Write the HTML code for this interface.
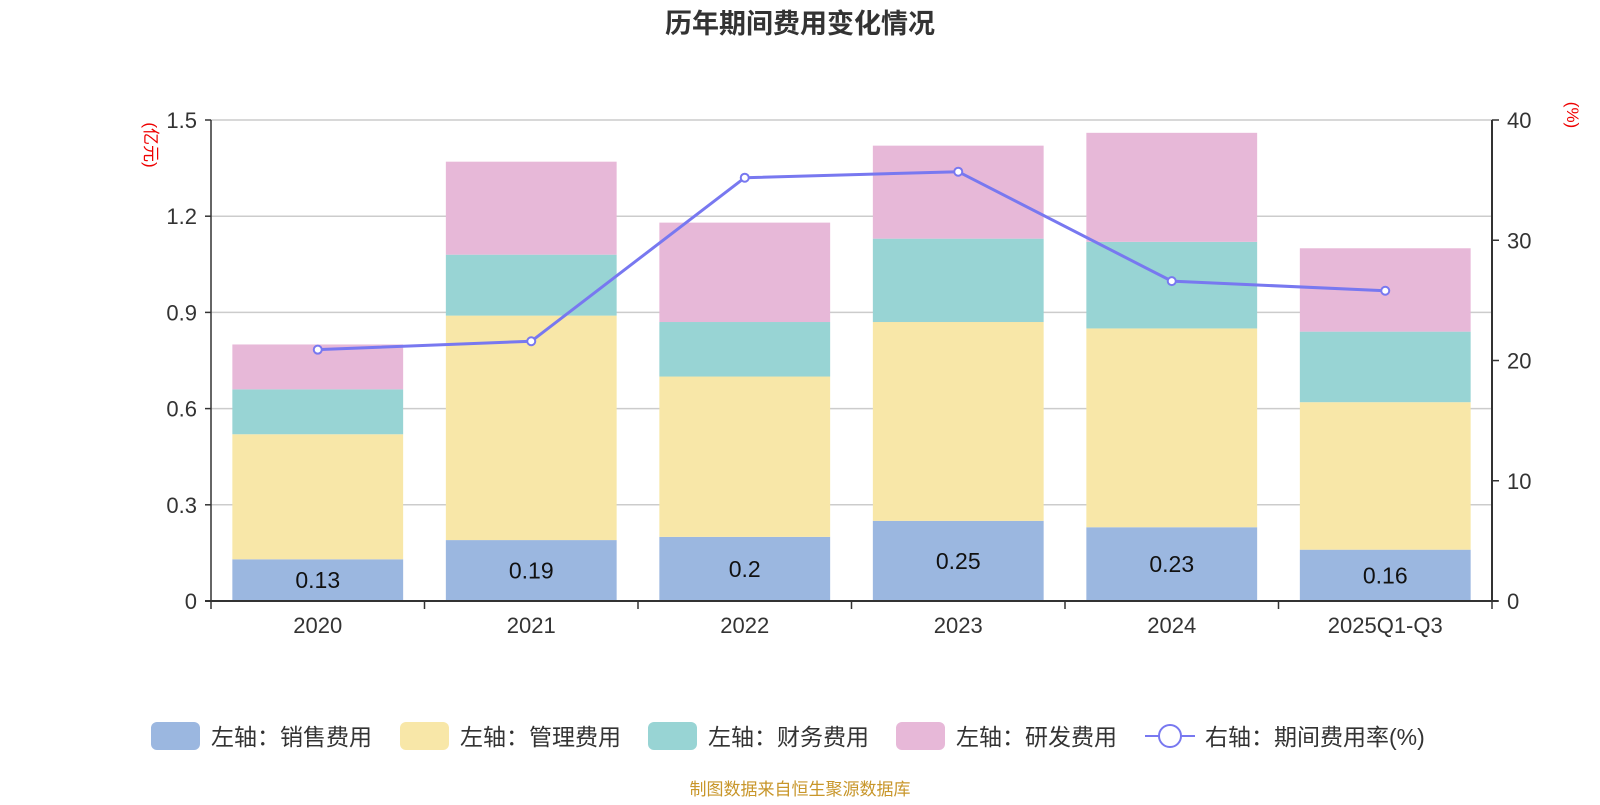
<!DOCTYPE html>
<html><head><meta charset="utf-8"><style>
body{margin:0;background:#fff;}
svg text{font-family:"Liberation Sans","Noto Sans CJK SC",sans-serif;}
</style></head><body>
<svg id="c" width="1600" height="800" viewBox="0 0 1600 800">
<text x="800" y="33" text-anchor="middle" font-size="27" font-weight="bold" fill="#333">历年期间费用变化情况</text>
<text transform="translate(145,145) rotate(90)" text-anchor="middle" font-size="17" fill="#e00">(亿元)</text>
<text transform="translate(1567,115) rotate(90)" text-anchor="middle" font-size="17" fill="#e00">(%)</text>
<g id="grid"></g><g id="bars"></g><g id="axes"></g><g id="line"></g><g id="legend"></g>
<text x="800" y="795" text-anchor="middle" font-size="17" fill="#c8962a">制图数据来自恒生聚源数据库</text>
</svg>
<script>
const categories=["2020","2021","2022","2023","2024","2025Q1-Q3"];
const sales=[0.13,0.19,0.2,0.25,0.23,0.16];
const admin=[0.39,0.70,0.50,0.62,0.62,0.46];
const finance=[0.14,0.19,0.17,0.26,0.27,0.22];
const rnd=[0.14,0.29,0.31,0.29,0.34,0.26];
const rate=[20.9,21.6,35.2,35.7,26.6,25.8];
const leftTicks=["0","0.3","0.6","0.9","1.2","1.5"];
const rightTicks=["0","10","20","30","40"];
const NS="http://www.w3.org/2000/svg";
const L=211,R=1492,T=120,B=601;
const yL=v=>B-(v/1.5)*(B-T);
const yR=v=>B-(v/40)*(B-T);
const bw=(R-L)/categories.length;
const xC=i=>L+bw*(i+0.5);
function mk(tag,attrs,parent,txt){const e=document.createElementNS(NS,tag);for(const k in attrs)e.setAttribute(k,attrs[k]);if(txt!==undefined)e.textContent=txt;document.getElementById(parent).appendChild(e);return e;}
leftTicks.forEach((t,i)=>{const y=yL(parseFloat(t));
 if(i>0){const g=mk('line',{x1:L,x2:R,y1:y,y2:y,stroke:'#ccc','stroke-width':1.5},'grid');
 
 }
 const tk=mk('text',{x:L-14,y:y+8,'text-anchor':'end','font-size':22,fill:'#333'},'axes',t);
 
 
 mk('line',{x1:L-6,x2:L,y1:y,y2:y,stroke:'#333','stroke-width':1.5},'axes');});
rightTicks.forEach(t=>{const y=yR(parseFloat(t));
 const tk=mk('text',{x:R+15,y:y+8,'font-size':22,fill:'#333'},'axes',t);
 
 
 mk('line',{x1:R,x2:R+7,y1:y,y2:y,stroke:'#333','stroke-width':1.5},'axes');});
mk('line',{x1:L,x2:L,y1:T,y2:B,stroke:'#333','stroke-width':1.5},'axes');
mk('line',{x1:R,x2:R,y1:T,y2:B,stroke:'#333','stroke-width':2},'axes');
mk('line',{x1:L-6,x2:R+6,y1:B,y2:B,stroke:'#333','stroke-width':2},'axes');
for(let i=0;i<=categories.length;i++){mk('line',{x1:L+bw*i,x2:L+bw*i,y1:B,y2:B+8,stroke:'#333','stroke-width':1.5},'axes');}
const series=[[sales,'#9bb7e0','sales'],[admin,'#f8e7a8','admin'],[finance,'#98d4d4','finance'],[rnd,'#e7b8d8','rnd']];
const w=bw*0.8;
categories.forEach((c,i)=>{let base=0;
 series.forEach(([arr,col,nm])=>{const v=arr[i];const r=mk('rect',{x:xC(i)-w/2,y:yL(base+v),width:w,height:yL(base)-yL(base+v),fill:col},'bars');
 
 
 base+=v;});
 const lb=mk('text',{x:xC(i),y:(yL(0)+yL(sales[i]))/2+8,'text-anchor':'middle','font-size':23,fill:'#111'},'bars',String(sales[i]));
 
 
 const xl=mk('text',{x:xC(i),y:B+32,'text-anchor':'middle','font-size':22,fill:'#333'},'axes',c);
 
 });
const pts=rate.map((v,i)=>xC(i)+','+yR(v)).join(' ');
const pl=mk('polyline',{points:pts,fill:'none',stroke:'#7878f0','stroke-width':3},'line');


rate.forEach((v,i)=>{const p=mk('circle',{cx:xC(i),cy:yR(v),r:4,fill:'#fff',stroke:'#7878f0','stroke-width':2},'line');
 
 });
const leg=[['左轴：销售费用','#9bb7e0',151],['左轴：管理费用','#f8e7a8',400],['左轴：财务费用','#98d4d4',648],['左轴：研发费用','#e7b8d8',896]];
leg.forEach(([t,col,x])=>{const r=mk('rect',{x:x,y:722,width:49,height:28,rx:6,fill:col},'legend');
 
 
 const tx=mk('text',{x:x+60,y:745,'font-size':23,fill:'#333'},'legend',t);
 
 });
mk('line',{x1:1145,x2:1195,y1:736,y2:736,stroke:'#7878f0','stroke-width':2},'legend');
const lc=mk('circle',{cx:1170,cy:736,r:11,fill:'#fff',stroke:'#7878f0','stroke-width':2},'legend');


const lt=mk('text',{x:1205,y:745,'font-size':23,fill:'#333'},'legend','右轴：期间费用率(%)');


</script>
</body></html>
